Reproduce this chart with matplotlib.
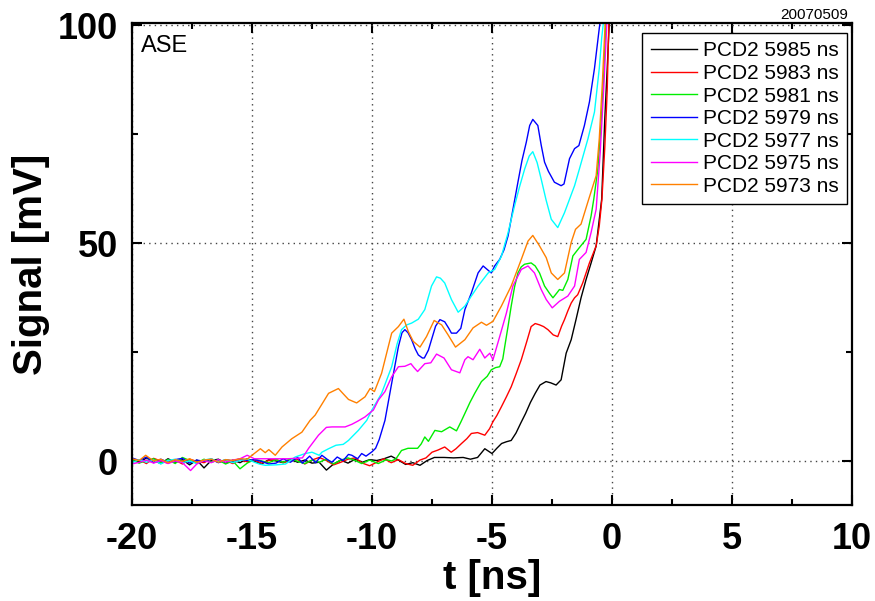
import matplotlib
matplotlib.use("Agg")
import matplotlib.pyplot as plt
from matplotlib.ticker import MultipleLocator

# signal traces, (t [ns], signal [mV])
s_5985 = [(-20.0, 0.5), (-19.7, -0.3), (-19.4, 0.8), (-19.1, 0.2), (-18.8, -0.5), (-18.5, 0.6),
          (-18.2, -0.2), (-17.9, 0.4), (-17.6, -0.8), (-17.3, 0.3), (-17.0, -1.5), (-16.7, 0.2),
          (-16.4, 0.5), (-16.1, -0.4), (-15.8, 0.3), (-15.5, -0.3), (-15.2, 0.6), (-14.9, 0.0),
          (-14.6, -0.6), (-14.3, 0.4), (-14.0, 0.1), (-13.7, -0.3), (-13.4, 0.5), (-13.1, -0.2),
          (-12.8, 0.3), (-12.5, -0.4), (-12.2, -0.2), (-11.9, -2.0), (-11.6, -0.6), (-11.3, 0.3),
          (-11.0, -0.4), (-10.7, 0.5), (-10.4, -0.2), (-10.1, 0.4), (-9.8, 0.2), (-9.5, 0.6),
          (-9.2, 1.2), (-8.9, 0.3), (-8.6, -0.7), (-8.3, -0.3), (-8.0, -0.9), (-7.7, 0.2),
          (-7.4, 0.9), (-7.0, 0.9), (-6.6, 0.8), (-6.2, 0.9), (-5.9, 0.5), (-5.6, 0.9),
          (-5.3, 2.9), (-5.0, 1.8), (-4.8, 3.0), (-4.6, 4.1), (-4.4, 4.5), (-4.2, 4.8),
          (-4.0, 6.5), (-3.8, 8.8), (-3.6, 11.0), (-3.4, 13.5), (-3.2, 15.6), (-3.0, 17.5),
          (-2.75, 18.3), (-2.55, 18.0), (-2.33, 17.5), (-2.12, 18.7), (-1.91, 24.8), (-1.7, 27.9),
          (-1.5, 32.5), (-1.29, 37.5), (-1.08, 41.7), (-0.87, 45.5), (-0.66, 49.4), (-0.53, 55.5),
          (-0.43, 60.1), (-0.3, 78.6), (-0.2, 90.0), (-0.11, 101.0)]

s_5983 = [(-20.0, -0.2), (-19.7, 0.4), (-19.4, -0.5), (-19.1, 0.7), (-18.8, 0.1), (-18.5, -0.4),
          (-18.2, 0.3), (-17.9, -0.6), (-17.6, 0.5), (-17.3, 0.0), (-17.0, -0.3), (-16.7, 0.6),
          (-16.4, -0.2), (-16.1, 0.2), (-15.8, -0.5), (-15.5, 0.4), (-15.2, -0.1), (-14.9, 0.3),
          (-14.6, -0.4), (-14.3, 0.2), (-14.0, 0.5), (-13.7, -0.3), (-13.4, 0.1), (-13.1, 0.4),
          (-12.8, -0.6), (-12.5, 0.3), (-12.2, 0.9), (-11.9, 0.2), (-11.6, -0.8), (-11.3, -0.2),
          (-11.0, 0.5), (-10.7, 0.8), (-10.4, -0.4), (-10.1, -1.0), (-9.8, -0.2), (-9.5, 0.6),
          (-9.2, -0.3), (-8.9, 0.4), (-8.6, -0.5), (-8.3, -0.9), (-8.0, 0.3), (-7.75, 0.8),
          (-7.5, 2.1), (-7.25, 2.6), (-6.97, 3.3), (-6.7, 2.1), (-6.5, 2.9), (-6.27, 4.1),
          (-6.05, 5.2), (-5.86, 6.4), (-5.6, 6.6), (-5.3, 6.0), (-5.1, 7.5), (-4.96, 9.1),
          (-4.8, 10.5), (-4.61, 12.5), (-4.4, 14.8), (-4.2, 17.1), (-4.0, 20.0), (-3.78, 23.3),
          (-3.55, 27.5), (-3.37, 30.9), (-3.2, 31.6), (-3.02, 31.3), (-2.85, 30.9), (-2.67, 30.2),
          (-2.45, 29.0), (-2.26, 28.6), (-2.1, 31.0), (-1.98, 32.5), (-1.84, 34.5), (-1.7, 36.3),
          (-1.56, 37.5), (-1.43, 38.2), (-1.22, 40.9), (-0.94, 45.5), (-0.66, 49.4), (-0.53, 54.0),
          (-0.42, 60.1), (-0.3, 72.0), (-0.2, 85.0), (-0.13, 101.0)]

s_5981 = [(-20.0, 0.3), (-19.7, -0.4), (-19.4, 0.2), (-19.1, 0.6), (-18.8, -0.3), (-18.5, 0.4),
          (-18.2, -0.5), (-17.9, 0.9), (-17.6, 0.2), (-17.3, -0.4), (-17.0, 0.5), (-16.7, -0.2),
          (-16.4, 0.3), (-16.1, -0.6), (-15.8, 0.1), (-15.5, -1.7), (-15.2, -0.4), (-14.9, 0.5),
          (-14.6, 0.1), (-14.3, -0.3), (-14.0, 0.4), (-13.7, -0.2), (-13.4, 0.6), (-13.1, 0.0),
          (-12.8, -0.5), (-12.5, 0.3), (-12.2, -0.2), (-11.9, 0.5), (-11.6, -0.6), (-11.3, 0.3),
          (-11.0, 0.8), (-10.7, 0.2), (-10.43, -0.5), (-10.1, 0.3), (-9.74, -0.5), (-9.4, 0.4),
          (-9.18, 0.1), (-9.0, 0.6), (-8.77, 2.5), (-8.5, 3.0), (-8.1, 3.0), (-7.95, 4.0),
          (-7.8, 5.6), (-7.65, 4.6), (-7.38, 7.1), (-7.1, 6.8), (-6.76, 7.9), (-6.48, 7.0),
          (-6.3, 9.0), (-6.13, 11.0), (-5.92, 13.5), (-5.72, 15.6), (-5.44, 18.3), (-5.2, 19.5),
          (-5.03, 21.0), (-4.85, 21.5), (-4.68, 21.7), (-4.55, 23.5), (-4.47, 26.3), (-4.33, 31.0),
          (-4.2, 35.6), (-4.06, 40.0), (-3.92, 43.2), (-3.78, 44.6), (-3.64, 45.2), (-3.37, 45.5),
          (-3.2, 44.8), (-3.02, 43.2), (-2.81, 40.2), (-2.6, 38.5), (-2.46, 37.5), (-2.3, 38.6),
          (-2.19, 39.4), (-2.05, 39.2), (-1.84, 41.7), (-1.63, 47.1), (-1.36, 49.0), (-1.08, 50.9),
          (-0.87, 56.3), (-0.76, 60.1), (-0.59, 67.0), (-0.45, 78.0), (-0.35, 88.0), (-0.25, 101.0)]

s_5979 = [(-20.0, 0.8), (-19.7, 0.2), (-19.4, 1.0), (-19.1, -0.3), (-18.8, 0.5), (-18.5, -0.2),
          (-18.2, 0.4), (-17.9, 0.7), (-17.6, -0.4), (-17.3, 0.3), (-17.0, 0.0), (-16.7, 0.5),
          (-16.4, -0.3), (-16.1, 0.4), (-15.8, 0.1), (-15.5, 0.6), (-15.2, 0.2), (-14.9, 0.4),
          (-14.6, 0.0), (-14.3, -0.6), (-14.0, -0.4), (-13.7, 0.6), (-13.4, -0.2), (-13.1, 0.9),
          (-12.9, -0.4), (-12.6, 1.2), (-12.35, -0.3), (-12.09, 1.4), (-11.85, 0.4), (-11.67, -0.2),
          (-11.45, 1.0), (-11.2, 0.2), (-10.98, 1.6), (-10.84, 1.4), (-10.6, 0.6), (-10.43, 1.8),
          (-10.25, 1.2), (-10.0, 2.2), (-9.85, 3.0), (-9.7, 5.0), (-9.46, 9.4), (-9.18, 17.9),
          (-8.9, 26.3), (-8.75, 29.5), (-8.63, 30.2), (-8.5, 29.5), (-8.35, 27.9), (-8.2, 25.8),
          (-8.07, 24.4), (-7.9, 23.7), (-7.82, 23.7), (-7.65, 25.5), (-7.52, 27.9), (-7.35, 31.0),
          (-7.17, 32.5), (-6.97, 32.0), (-6.8, 30.5), (-6.69, 29.4), (-6.48, 29.4), (-6.3, 30.5),
          (-6.13, 34.8), (-5.86, 38.6), (-5.58, 43.2), (-5.37, 44.8), (-5.2, 44.0), (-5.03, 43.2),
          (-4.89, 44.8), (-4.68, 46.3), (-4.5, 48.5), (-4.33, 51.7), (-4.12, 58.0), (-3.92, 64.0),
          (-3.75, 69.0), (-3.57, 73.2), (-3.43, 77.0), (-3.3, 78.4), (-3.09, 77.0), (-2.95, 72.5),
          (-2.81, 68.6), (-2.65, 66.5), (-2.4, 64.0), (-2.12, 63.2), (-2.0, 63.6), (-1.77, 69.4),
          (-1.56, 71.7), (-1.38, 72.4), (-1.15, 77.0), (-0.94, 82.4), (-0.73, 90.1), (-0.53, 99.3),
          (-0.49, 101.0)]

s_5977 = [(-20.0, -0.3), (-19.7, 0.4), (-19.4, -0.2), (-19.1, 0.3), (-18.8, -0.6), (-18.5, 0.2),
          (-18.2, 0.5), (-17.9, -0.3), (-17.6, 0.1), (-17.3, -0.5), (-17.0, 0.3), (-16.7, 0.6),
          (-16.4, -0.1), (-16.1, 0.4), (-15.8, -0.3), (-15.5, 0.2), (-15.2, 0.5), (-14.9, -0.2),
          (-14.7, -0.6), (-14.45, -0.9), (-14.0, -0.8), (-13.6, -0.6), (-13.2, 1.0), (-12.78, 1.8),
          (-12.5, 2.1), (-12.2, 1.4), (-12.09, 2.1), (-11.81, 2.9), (-11.5, 3.7), (-11.2, 3.9),
          (-10.98, 4.8), (-10.84, 5.6), (-10.57, 7.1), (-10.22, 9.4), (-10.0, 11.8), (-9.6, 15.6),
          (-9.18, 21.7), (-8.95, 27.0), (-8.77, 30.2), (-8.55, 31.3), (-8.35, 31.7), (-8.07, 32.6),
          (-7.8, 34.8), (-7.52, 40.2), (-7.31, 42.3), (-7.15, 42.0), (-6.97, 40.9), (-6.69, 37.1),
          (-6.41, 34.2), (-6.13, 35.6), (-5.86, 37.9), (-5.58, 40.2), (-5.16, 43.2), (-4.89, 44.0),
          (-4.61, 47.0), (-4.35, 52.0), (-4.06, 58.6), (-3.85, 63.0), (-3.64, 67.0), (-3.45, 70.0),
          (-3.3, 71.0), (-3.12, 68.5), (-2.95, 64.7), (-2.75, 60.0), (-2.53, 55.5), (-2.26, 53.6),
          (-1.98, 57.0), (-1.77, 60.1), (-1.56, 63.2), (-1.36, 67.0), (-1.0, 74.0), (-0.73, 80.1),
          (-0.53, 90.1), (-0.43, 97.0), (-0.35, 101.0)]

s_5975 = [(-20.0, -0.6), (-19.7, -0.2), (-19.4, 0.3), (-19.1, -0.4), (-18.8, 0.2), (-18.5, -0.5),
          (-18.2, 0.1), (-17.9, -0.3), (-17.56, -2.1), (-17.3, -0.6), (-17.0, 0.2), (-16.7, -0.3),
          (-16.4, 0.4), (-16.1, -0.2), (-15.8, 0.3), (-15.5, 0.6), (-15.2, 1.4), (-14.9, 0.6),
          (-14.5, 0.6), (-14.0, 0.6), (-13.5, 0.6), (-12.9, 0.8), (-12.64, 3.0), (-12.23, 6.0),
          (-11.9, 7.8), (-11.67, 7.9), (-11.12, 7.9), (-10.84, 8.5), (-10.6, 9.2), (-10.29, 10.2),
          (-9.94, 11.8), (-9.73, 14.1), (-9.46, 16.0), (-9.18, 19.4), (-8.9, 21.7), (-8.63, 21.8),
          (-8.38, 22.4), (-8.25, 21.5), (-8.1, 20.6), (-7.95, 21.5), (-7.8, 22.4), (-7.55, 22.6),
          (-7.31, 24.6), (-7.0, 23.7), (-6.69, 21.0), (-6.34, 20.3), (-6.13, 23.3), (-6.0, 24.0),
          (-5.79, 23.3), (-5.51, 25.7), (-5.3, 23.7), (-5.09, 24.8), (-4.96, 23.3), (-4.68, 28.6),
          (-4.4, 34.0), (-4.13, 40.2), (-3.78, 44.0), (-3.5, 44.8), (-3.23, 43.2), (-2.95, 39.4),
          (-2.74, 37.1), (-2.49, 35.2), (-2.19, 36.7), (-1.84, 37.9), (-1.56, 40.2), (-1.36, 46.3),
          (-1.08, 47.9), (-0.87, 52.5), (-0.66, 57.8), (-0.49, 70.9), (-0.35, 85.0), (-0.21, 101.0)]

s_5973 = [(-20.0, 0.6), (-19.7, 0.2), (-19.43, 1.4), (-19.1, 0.1), (-18.8, 0.5), (-18.5, -0.3),
          (-18.2, 0.4), (-17.9, 0.0), (-17.6, 0.6), (-17.3, -0.2), (-17.0, 0.3), (-16.7, 0.5),
          (-16.4, -0.2), (-16.1, 0.4), (-15.8, 0.2), (-15.5, 0.6), (-15.2, 0.5), (-15.0, 1.4),
          (-14.65, 2.9), (-14.45, 2.0), (-14.3, 2.7), (-14.03, 1.4), (-13.75, 3.3), (-13.34, 5.2),
          (-12.92, 6.7), (-12.58, 9.4), (-12.37, 10.6), (-12.1, 13.0), (-11.81, 15.6), (-11.4, 16.7),
          (-11.2, 15.5), (-10.98, 14.2), (-10.64, 13.4), (-10.29, 14.8), (-10.08, 16.7), (-9.9, 16.0),
          (-9.6, 20.2), (-9.18, 29.4), (-8.9, 30.9), (-8.67, 32.6), (-8.49, 29.8), (-8.28, 27.5),
          (-8.0, 26.2), (-7.73, 28.6), (-7.41, 32.3), (-7.1, 31.3), (-6.83, 29.0), (-6.52, 26.2),
          (-6.13, 27.9), (-5.79, 30.6), (-5.44, 31.9), (-5.23, 31.2), (-4.96, 32.1), (-4.61, 35.6),
          (-4.2, 40.2), (-3.78, 46.3), (-3.5, 50.5), (-3.3, 51.8), (-3.02, 49.4), (-2.74, 46.7),
          (-2.53, 43.2), (-2.26, 41.7), (-1.98, 43.2), (-1.7, 50.2), (-1.52, 53.2), (-1.29, 54.4),
          (-0.97, 60.1), (-0.66, 65.5), (-0.53, 74.0), (-0.4, 87.0), (-0.28, 101.0)]

labels = ["PCD2 5985 ns", "PCD2 5983 ns", "PCD2 5981 ns", "PCD2 5979 ns",
          "PCD2 5977 ns", "PCD2 5975 ns", "PCD2 5973 ns"]
series = [s_5985, s_5983, s_5981, s_5979, s_5977, s_5975, s_5973]
colors = ["#000000", "#ff0000", "#00ee00", "#0000ff", "#00ffff", "#ff00ff", "#ff8000"]

plt.rcParams['font.family'] = ['Liberation Sans', 'DejaVu Sans']
plt.rcParams['axes.unicode_minus'] = False

fig = plt.figure(figsize=(8.75, 6.01), dpi=100)
ax = fig.add_axes([132/875, 1 - 505/601, 720/875, 482/601])

for s, c, lab in zip(series, colors, labels):
    t = [p[0] for p in s]
    v = [p[1] for p in s]
    ax.plot(t, v, color=c, lw=1.0, label=lab)

ax.set_xlim(-20, 10)
ax.set_ylim(-10, 100.5)
ax.xaxis.set_major_locator(MultipleLocator(5))
ax.xaxis.set_minor_locator(MultipleLocator(2.5))
ax.yaxis.set_major_locator(MultipleLocator(50))
ax.yaxis.set_minor_locator(MultipleLocator(25))
ax.tick_params(which='both', direction='in', top=True, right=True, width=1.5)
ax.tick_params(which='major', length=7)
ax.tick_params(which='minor', length=4)
ax.tick_params(axis='x', which='major', pad=12)
ax.tick_params(axis='y', which='major', pad=10)
for lab in ax.get_xticklabels() + ax.get_yticklabels():
    lab.set_fontsize(26)
    lab.set_fontweight('bold')
for sp in ax.spines.values():
    sp.set_linewidth(1.6)

ax.grid(True, which='major', color='#444444', linestyle=(0, (1, 3)), lw=1.0)

ax.set_xlabel('t [ns]', fontsize=29, fontweight='bold', labelpad=2)
ax.set_ylabel('Signal [mV]', fontsize=29, fontweight='bold', labelpad=6)

ax.text(0.012, 0.975, 'ASE', transform=ax.transAxes, fontsize=17, va='top', ha='left')
fig.text(848/875, 1 - 22/601, '20070509', fontsize=11, ha='right', va='bottom')

leg = ax.legend(loc='upper right', bbox_to_anchor=(0.993, 0.979), borderaxespad=0,
                fontsize=15, frameon=True, fancybox=False, framealpha=1,
                handlelength=2.2, handletextpad=0.3, labelspacing=0.17, borderpad=0.4)
leg.get_frame().set_edgecolor('black')
leg.get_frame().set_linewidth(1.0)

fig.savefig('out.png', dpi=100)
